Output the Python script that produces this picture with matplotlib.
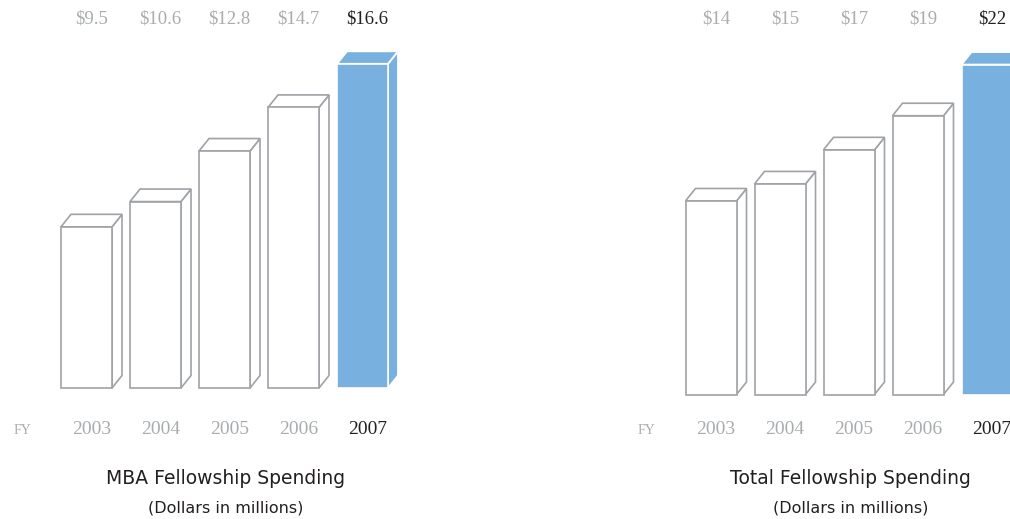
import matplotlib
matplotlib.use("Agg")
import matplotlib.pyplot as plt
from matplotlib.patches import Polygon
from matplotlib.transforms import blended_transform_factory

# ---- data ----
years = ["2003", "2004", "2005", "2006", "2007"]
mba_values = [9.5, 10.6, 12.8, 14.7, 16.6]
mba_labels = ["$9.5", "$10.6", "$12.8", "$14.7", "$16.6"]
total_values = [14, 15, 17, 19, 22]
total_labels = ["$14", "$15", "$17", "$19", "$22"]
titles = ["MBA Fellowship Spending", "Total Fellowship Spending"]
subtitle = "(Dollars in millions)"

W, H = 1010, 519
GRAY_EDGE = "#9fa2a6"
BLUE = "#78b1df"
LABEL_GRAY = "#a9acaf"
DARK = "#231f20"

fig = plt.figure(figsize=(W / 100, H / 100), dpi=100)

PITCH = 69.0      # px per category
BAR_W = 51.0      # px
DX, DY = 10.0, 12.5  # depth offset px


def panel(ax_left, ax_right, x0, base_px, pxu, base_val, values, labels, title):
    ax = fig.add_axes([ax_left / W, (H - base_px) / H,
                       (ax_right - ax_left) / W, base_px / H])
    ax.set_xlim((ax_left - x0) / PITCH, (ax_right - x0) / PITCH)
    ax.set_ylim(base_val, base_val + base_px / pxu)
    ax.axis("off")
    w = BAR_W / PITCH
    dx = DX / PITCH
    dy = DY / pxu
    xs = list(range(len(values)))
    n = len(values)
    for i, (x, v) in enumerate(zip(xs, values)):
        last = i == n - 1
        fc = BLUE if last else "white"
        ec = "white" if last else GRAY_EDGE
        lw = 1.3 if last else 1.2
        side = Polygon([(x + w / 2, base_val), (x + w / 2 + dx, base_val + dy),
                        (x + w / 2 + dx, v + dy), (x + w / 2, v)],
                       closed=True, facecolor=fc, edgecolor=ec, lw=lw,
                       joinstyle="miter", clip_on=False, zorder=2)
        top = Polygon([(x - w / 2, v), (x + w / 2, v),
                       (x + w / 2 + dx, v + dy), (x - w / 2 + dx, v + dy)],
                      closed=True, facecolor=fc, edgecolor=ec, lw=lw,
                      joinstyle="miter", clip_on=False, zorder=2)
        ax.add_patch(side)
        ax.add_patch(top)
    ax.bar(xs, [v - base_val for v in values], bottom=base_val, width=w,
           color=[BLUE if i == n - 1 else "white" for i in range(n)],
           edgecolor=["white" if i == n - 1 else GRAY_EDGE for i in range(n)],
           linewidth=1.2, zorder=3, clip_on=False)

    tr = blended_transform_factory(ax.transData, fig.transFigure)
    for i, (x, lab) in enumerate(zip(xs, labels)):
        last = i == n - 1
        ax.text(x + dx / 2, 1 - 19 / H, lab, transform=tr, ha="center",
                va="center", family="Liberation Serif", fontsize=13.5,
                color=DARK if last else LABEL_GRAY)
        ax.text(x + dx / 2, 1 - 430 / H, years[i], transform=tr, ha="center",
                va="center", family="Liberation Serif", fontsize=14,
                color=DARK if last else LABEL_GRAY)
    ax.text(-0.93, 1 - 430 / H, "FY", transform=tr, ha="center", va="center",
            family="Liberation Serif", fontsize=10, color=LABEL_GRAY)
    ax.text(2 + 0.02, 1 - 479 / H, title, transform=tr, ha="center",
            va="center", family="DejaVu Sans", fontsize=13.5, color=DARK)
    ax.text(2 + 0.02, 1 - 508 / H, subtitle, transform=tr, ha="center",
            va="center", family="DejaVu Sans", fontsize=11.5, color=DARK)
    return ax


panel(0, 505, 86.5, 388, 22.96, 2.48, mba_values, mba_labels, titles[0])
panel(505, 1100, 711, 394.5, 17.05, 2.65, total_values, total_labels, titles[1])

fig.savefig("out.png", dpi=100)
